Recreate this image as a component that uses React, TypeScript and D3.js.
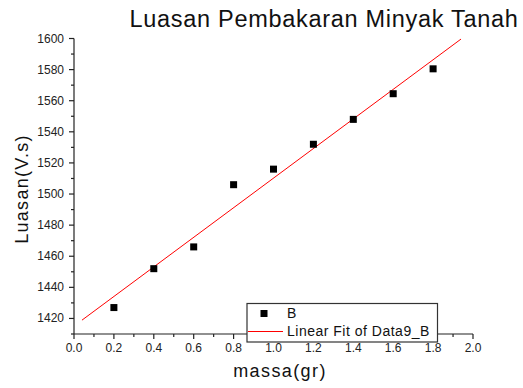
import React from 'react'
import * as d3 from 'd3'

const massa = [0.2, 0.4, 0.6, 0.8, 1.0, 1.2, 1.4, 1.6, 1.8]
const luasan = [1427, 1452, 1466, 1506, 1516, 1532, 1548, 1564.5, 1580.5]
const fitRange = [0.04, 1.94]
const xTicks = [0, 0.2, 0.4, 0.6, 0.8, 1.0, 1.2, 1.4, 1.6, 1.8, 2.0]
const yTicks = [1420, 1440, 1460, 1480, 1500, 1520, 1540, 1560, 1580, 1600]

const W = 523
const H = 388
const margin = { left: 74, top: 38.5, right: 50, bottom: 54 }
const font = 'Liberation Sans, Arial, sans-serif'

export default function App() {
  const x = d3.scaleLinear().domain([0, 2]).range([margin.left, W - margin.right])
  const y = d3.scaleLinear().domain([1410, 1600]).range([H - margin.bottom, margin.top])

  // least squares fit
  const mx = d3.mean(massa)!
  const my = d3.mean(luasan)!
  const sxy = d3.sum(massa, (v, i) => (v - mx) * (luasan[i] - my))
  const sxx = d3.sum(massa, (v) => (v - mx) ** 2)
  const slope = sxy / sxx
  const icpt = my - slope * mx
  const fitLine = d3
    .line<number>()
    .x((d) => x(d))
    .y((d) => y(icpt + slope * d))(fitRange)

  const x0 = x(0)
  const yb = y(1410)
  const xMinor = d3.range(1, 20, 2).map((i) => i / 10)
  const yMinor = d3.range(1410, 1600, 20)

  return (
    <svg width={W} height={H} style={{ position: 'absolute', left: 0, top: 0, background: '#fff' }}>
      <text x={324} y={27} textAnchor="middle" fontFamily={font} fontSize={23.5} letterSpacing={0.7} fill="#111">
        Luasan Pembakaran Minyak Tanah
      </text>

      {/* axes */}
      <g stroke="#222" strokeWidth={1.2}>
        <line x1={x0} x2={x0} y1={y(1600)} y2={yb} />
        <line x1={x0} x2={x(2)} y1={yb} y2={yb} />
        {xTicks.map((t) => (
          <line key={'xt' + t} x1={x(t)} x2={x(t)} y1={yb} y2={yb + 5} />
        ))}
        {xMinor.map((t) => (
          <line key={'xm' + t} x1={x(t)} x2={x(t)} y1={yb} y2={yb + 3} />
        ))}
        {yTicks.map((t) => (
          <line key={'yt' + t} x1={x0} x2={x0 - 5} y1={y(t)} y2={y(t)} />
        ))}
        {yMinor.map((t) => (
          <line key={'ym' + t} x1={x0} x2={x0 - 3} y1={y(t)} y2={y(t)} />
        ))}
      </g>
      <g fontFamily={font} fontSize={12} fill="#222">
        {xTicks.map((t) => (
          <text key={'xl' + t} x={x(t)} y={yb + 18} textAnchor="middle">
            {t.toFixed(1)}
          </text>
        ))}
        {yTicks.map((t) => (
          <text key={'yl' + t} x={x0 - 10} y={y(t) + 4} textAnchor="end">
            {t}
          </text>
        ))}
      </g>
      <text x={280} y={377} textAnchor="middle" fontFamily={font} fontSize={18} letterSpacing={1.4} fill="#111">
        massa(gr)
      </text>
      <text
        transform={`translate(28, 189) rotate(-90)`}
        textAnchor="middle"
        fontFamily={font}
        fontSize={18}
        letterSpacing={1.3}
        fill="#111"
      >
        Luasan(V.s)
      </text>

      {/* fit + points */}
      <path d={fitLine ?? ''} fill="none" stroke="#ff0000" strokeWidth={1} />
      {massa.map((m, i) => (
        <rect key={'p' + i} x={x(m) - 3.5} y={y(luasan[i]) - 3.5} width={7} height={7} fill="#000" />
      ))}

      {/* legend */}
      <g fontFamily={font} fontSize={14} letterSpacing={0.5} fill="#111">
        <rect x={247} y={303.5} width={190.5} height={38.5} fill="#fff" stroke="#333" strokeWidth={1.2} />
        <rect x={260.5} y={310} width={7} height={7} fill="#000" />
        <text x={287} y={318}>B</text>
        <line x1={248} x2={283} y1={331.5} y2={331.5} stroke="#ff0000" strokeWidth={1} />
        <text x={287} y={336}>Linear Fit of Data9_B</text>
      </g>
    </svg>
  )
}
